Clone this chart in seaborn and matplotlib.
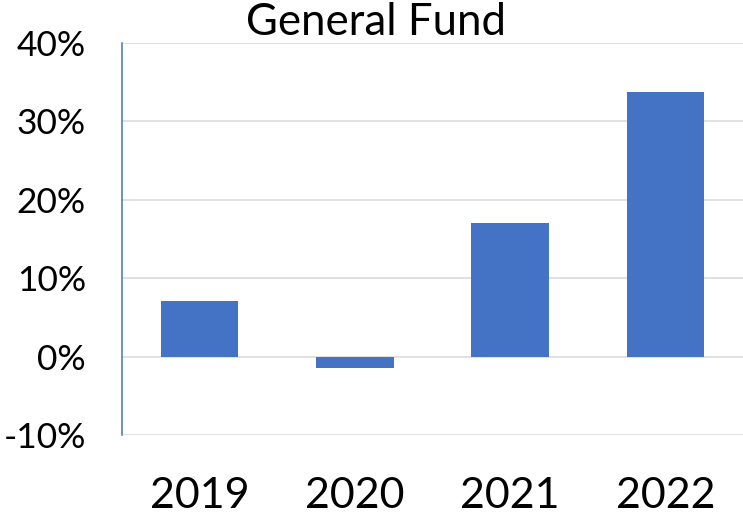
import matplotlib
matplotlib.use("Agg")
import matplotlib.pyplot as plt
import seaborn as sns
import pandas as pd
from matplotlib.ticker import PercentFormatter, MultipleLocator

years = ["2019", "2020", "2021", "2022"]
growth = [0.071, -0.015, 0.170, 0.338]
title = "General Fund"

sns.set_theme(style="white")
plt.rcParams["font.family"] = ["Lato", "DejaVu Sans"]
plt.rcParams["axes.unicode_minus"] = False

df = pd.DataFrame({"year": years, "growth": growth})

fig = plt.figure(figsize=(7.43, 5.18), dpi=100)
ax = fig.add_axes([122 / 743, 1 - 435 / 518, 1 - 122 / 743, (435 - 43) / 518])

sns.barplot(data=df, x="year", y="growth", color="#4472C4", width=0.5,
            saturation=1, linewidth=0, ax=ax)

ax.set_ylim(-0.1, 0.4)
ax.set_xlim(-0.5, 3.5)
ax.yaxis.set_major_locator(MultipleLocator(0.1))
ax.yaxis.set_major_formatter(PercentFormatter(1.0, decimals=0))
ax.set_axisbelow(True)
ax.grid(axis="y", color="#D9D9D9", linewidth=1.1)
ax.grid(axis="x", visible=False)

for s in ["top", "right", "bottom"]:
    ax.spines[s].set_visible(False)
ax.spines["left"].set_color("#4472C4")
ax.spines["left"].set_linewidth(1.1)

ax.tick_params(axis="y", length=0, pad=26, labelsize=25.5, labelcolor="black")
ax.tick_params(axis="x", length=0, pad=30, labelsize=31, labelcolor="black")
ax.set_xlabel("")
ax.set_ylabel("")

fig.text(376 / 743, 1 - 35 / 518, title, ha="center", va="baseline",
         fontsize=31.5, color="black")

fig.savefig("out.png", dpi=100)
